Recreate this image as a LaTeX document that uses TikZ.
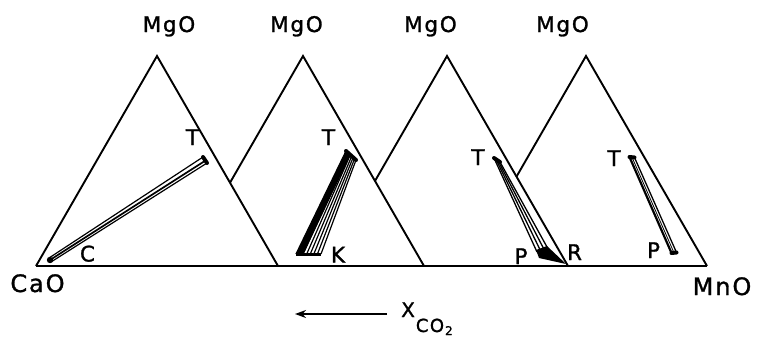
\documentclass[tikz,border=0pt]{standalone}
\usepackage{fontspec}
\setmainfont{DejaVu Sans}
\newfontfamily\labfont[LetterSpace=8,FakeBold=1.2]{DejaVu Sans}
\usetikzlibrary{arrows.meta,calc}
\begin{document}
\begin{tikzpicture}[x=1pt,y=-1pt,
  edge/.style={line width=1.9pt, line join=miter},
  tie/.style={line width=1.2pt},
  capline/.style={line width=4pt, line cap=round},
  lab/.style={font=\labfont\fontsize{21.5}{22}\selectfont, inner sep=0pt, anchor=base},
  biglab/.style={font=\labfont\fontsize{24}{24}\selectfont, inner sep=0pt, anchor=base}]
\useasboundingbox (0,0) rectangle (757,338);
% triangles
\coordinate (L1) at (36,266);  \coordinate (A1) at (157,56); \coordinate (R1) at (278,266);
\coordinate (L2) at (182,266); \coordinate (A2) at (303,56); \coordinate (R2) at (424,266);
\coordinate (L3) at (326,266); \coordinate (A3) at (447,56); \coordinate (R3) at (568,266);
\coordinate (L4) at (465,266); \coordinate (A4) at (586,56); \coordinate (R4) at (707,266);
\coordinate (X2) at (intersection of L2--A2 and R1--A1);
\coordinate (X3) at (intersection of L3--A3 and R2--A2);
\coordinate (X4) at (intersection of L4--A4 and R3--A3);
\draw[edge] (L1) -- (A1) -- (R1);
\draw[edge] (X2) -- (A2) -- (R2);
\draw[edge] (X3) -- (A3) -- (R3);
\draw[edge] (X4) -- (A4) -- (R4);
\draw[edge] (L1) -- (R4);
% labels
\node[lab] (mg1) at (169,32) {MgO};
\node[lab] (mg2) at (296.5,32) {MgO};
\node[lab] (mg3) at (430.5,32) {MgO};
\node[lab] (mg4) at (562.5,32) {MgO};
\node[biglab] (cao) at (37.5,292) {CaO};
\node[biglab] (mno) at (722,295) {MnO};
\node[lab] (c1) at (87.5,261.5) {C};
\node[lab] (t1) at (192.5,145) {T};
\node[lab] (t2) at (328.5,145) {T};
\node[lab] (k2) at (338,262.5) {K};
\node[lab] (t3) at (478,165) {T};
\node[lab] (p3) at (521,264) {P};
\node[lab] (r3) at (574.5,260) {R};
\node[lab] (t4) at (614,166) {T};
\node[lab] (p4) at (653.5,258) {P};
% bundle 1: C -- T
\coordinate (C1) at (50,260);
\coordinate (C1a) at (49,258); \coordinate (C1b) at (51,262);
\coordinate (T1a) at (203,157); \coordinate (T1b) at (207,163);
\draw[tie] (C1a) -- (T1a);
\draw[tie] (C1b) -- (T1b);
\draw[line width=1.7pt] (C1) -- ($(T1a)!0.6!(T1b)$);
\draw[capline] (T1a) -- (T1b);
\fill (C1) circle (3.2);
% bundle 2: T -- K
\coordinate (T2a) at (346,151); \coordinate (T2b) at (356,160);
\coordinate (K2a) at (296,254); \coordinate (K2b) at (321,254);
\fill (T2a) -- ($(T2a)!0.45!(T2b)$) -- ($(K2a)!0.3!(K2b)$) -- (K2a) -- cycle;
\foreach \i in {0,...,7}
  \draw[tie] ($(K2a)!{\i/7}!(K2b)$) -- ($(T2a)!{\i/7}!(T2b)$);
\draw[capline] (T2a) -- (T2b);
\draw[line width=3pt] (K2a) -- (K2b);
% bundle 3: T -- P,R
\coordinate (T3a) at (494,158); \coordinate (T3b) at (500,162);
\coordinate (P3a) at (537,252); \coordinate (P3b) at (547,247);
\foreach \i in {0,...,3}
  \draw[line width=1.3pt] ($(T3a)!{\i/3}!(T3b)$) -- ($(P3a)!{\i/3}!(P3b)$);
\draw[capline] (T3a) -- (T3b);
\coordinate (W1) at (536,250); \coordinate (W2) at (547,246);
\coordinate (W3) at (566,264); \coordinate (W4) at (539,258);
\fill (W1) -- (W2) -- (W3) -- (W4) -- cycle;
% bundle 4: T -- P
\coordinate (T4a) at (629.5,157); \coordinate (T4b) at (634.5,157.5);
\coordinate (P4a) at (671.5,253); \coordinate (P4b) at (676.5,252.5);
\draw[line width=2.2pt] (T4a) -- (P4a);
\draw[line width=0.8pt] ($(T4a)!0.5!(T4b)$) -- ($(P4a)!0.5!(P4b)$);
\draw[line width=1.3pt] (T4b) -- (P4b);
\draw[capline] (T4a) -- (T4b);
\draw[capline] (P4a) -- (P4b);
% arrow and X_CO2
\coordinate (arrS) at (387,314); \coordinate (arrE) at (295,314);
\draw[line width=1.5pt, -{Stealth[length=11pt,width=8pt,inset=3.5pt]}] (arrS) -- (arrE);
\node[inner sep=0pt, anchor=base west, font=\labfont\fontsize{20}{20}\selectfont] (xco) at (401,317)
  {X\kern1pt\raisebox{-15pt}{\fontsize{18}{18}\selectfont CO\kern1pt\raisebox{-3pt}{\fontsize{12}{12}\selectfont 2}}};
\end{tikzpicture}
\end{document}
